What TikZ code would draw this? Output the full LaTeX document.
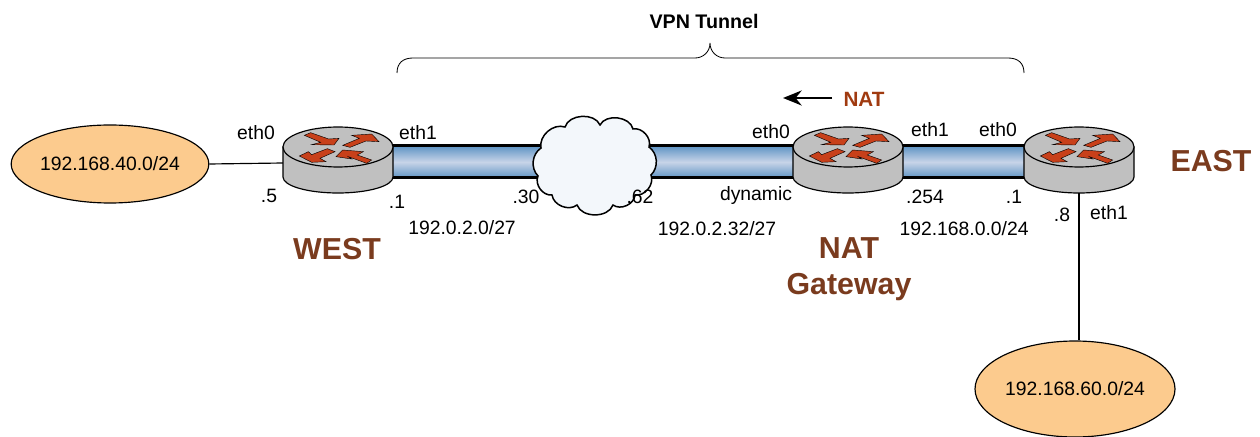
\documentclass[tikz,border=0pt]{standalone}
\usepackage{fontspec}
\setmainfont{Liberation Sans}
\usetikzlibrary{calc,shapes.geometric,arrows.meta}
\definecolor{routerred}{HTML}{C8401A}
\definecolor{routergray}{HTML}{C0C0C0}
\definecolor{peach}{HTML}{FCCB8E}
\definecolor{brownlabel}{HTML}{7A3B1E}
\definecolor{natred}{HTML}{A03A10}
\definecolor{cloudfill}{HTML}{F3F7FB}
\definecolor{tubeblue}{HTML}{5F94C4}
\definecolor{tubelight}{HTML}{C8D4E8}
\tikzset{
  lbl/.style={font=\fontsize{11.6}{14}\selectfont,inner sep=0pt,text=black},
  titlebold/.style={font=\fontsize{11.8}{14}\selectfont\bfseries,inner sep=0pt},
  bigname/.style={font=\fontsize{18.2}{21.5}\selectfont\bfseries,inner sep=0pt,text=brownlabel,align=center},
  natlbl/.style={font=\fontsize{12.4}{14}\selectfont\bfseries,inner sep=0pt,text=natred},
  subnet/.style={ellipse,draw=black,line width=0.7pt,fill=peach,inner sep=0pt,font=\fontsize{11.6}{14}\selectfont},
  hub/.style={inner sep=0pt,minimum size=0pt},
  wire/.style={draw=black,line width=0.7pt},
  tubefill/.style={top color=tubeblue,bottom color=tubeblue,middle color=tubelight,shading angle=0},
  tubeedge/.style={draw=black,line width=1.8pt},
  arrowface/.style={fill=routerred,draw=black,line width=0.25pt,line join=miter},
  router/.pic={
    \path[fill=routergray,draw=black,line width=0.7pt]
      (-55,0) -- (-55,30) .. controls (-55,39) and (-30,46) .. (0,46)
      .. controls (30,46) and (55,39) .. (55,30) -- (55,0) -- cycle;
    \path[fill=routergray,draw=black,line width=0.7pt] (0,0) ellipse [x radius=33pt,y radius=12pt];
    \begin{scope}[x=0.2pt,y=-0.2pt]
      \path[arrowface] (-101,-35) -- (-82,-43) -- (-28,-24) -- (3,-26) -- (-12,-6) -- (-79,-7) -- (-52,-14) -- cycle;
      \path[arrowface] (14,-5) -- (64,-26) -- (41,-35) -- (101,-39) -- (123,-16) -- (84,-18) -- (36,1) -- cycle;
      \path[arrowface] (-116,27) -- (-79,46) -- (-36,44) -- (-54,34) -- (-9,14) -- (-32,5) -- (-79,23) -- (-89,14) -- cycle;
      \path[arrowface] (-6,29) -- (14,9) -- (76,14) -- (58,24) -- (101,39) -- (86,49) -- (31,29) -- (41,36) -- cycle;
    \end{scope}
  }
}
\newcommand{\tubelink}[2]{%
  \shade[tubefill] ($(#1)+(0,-16)$) rectangle ($(#2)+(0,16)$);
  \draw[tubeedge] ($(#1)+(0,-16)$) -- ($(#2)+(0,-16)$);
  \draw[tubeedge] ($(#1)+(0,16)$) -- ($(#2)+(0,16)$);
}
\begin{document}
\begin{tikzpicture}[x=0.6pt,y=-0.6pt]
\useasboundingbox (0,0) rectangle (1260,437);
\clip (0,0) rectangle (1260,437);

% anchors of the tube links
\coordinate (westE) at (393,162);
\coordinate (cloudW) at (560,162);
\coordinate (cloudE) at (630,162);
\coordinate (natW) at (793,162);
\coordinate (natE) at (903,162);
\coordinate (eastW) at (1024,162);

\tubelink{westE}{cloudW}
\tubelink{cloudE}{natW}
\tubelink{natE}{eastW}

% subnets
\node[subnet,minimum width=115.2pt,minimum height=46.8pt] (lanw) at (110,164) {192.168.40.0/24};
\node[subnet,minimum width=120pt,minimum height=57.6pt] (lane) at (1075,389) {192.168.60.0/24};

% routers
\node[hub] (west) at (338,147) {};
\node[hub] (nat) at (848,147) {};
\node[hub] (east) at (1079,147) {};
\coordinate (westL) at (283,163);
\coordinate (eastB) at (1079,190);

\draw[wire] (lanw.east) -- (westL);
\draw[wire] (eastB) -- (eastB |- lane.north);

\pic at (west) {router};
\pic at (nat) {router};
\pic at (east) {router};

% cloud
\path[fill=cloudfill,draw=black,line width=0.9pt]
  (565,127) to[bend left=70] (600,125) to[bend left=70] (633,129)
  to[bend left=60] (649,147) to[bend left=50] (651,175)
  to[bend left=60] (635,195) to[bend left=60] (613,205)
  to[bend left=70] (577,205) to[bend left=60] (552,195)
  to[bend left=60] (538,176) to[bend left=50] (541,148)
  to[bend left=60] cycle;

% brace
\coordinate (braceL) at (397,73);
\coordinate (braceR) at (1024,73);
\coordinate (braceT) at (710,43);
\draw[black,line width=0.5pt]
  (braceL) .. controls (397,63) and (403,58) .. (413,58) -- (695,58)
  .. controls (703,58) and (710,52) .. (braceT)
  .. controls (710,52) and (717,58) .. (725,58) -- (1008,58)
  .. controls (1018,58) and (braceR |- 63,63) .. (braceR);
\node[titlebold] (vpn) at (704,21) {VPN Tunnel};

% NAT arrow
\node[natlbl] (natl) at (864,99) {NAT};
\coordinate (natS) at (832,98);
\coordinate (natT) at (783,98);
\draw[-{Stealth[length=14pt*0.8,width=9pt]},line width=1.3pt] (natS) -- (natT);

% labels
\node[lbl] (a1) at (256,133) {eth0};
\node[lbl] (a2) at (418,133) {eth1};
\node[lbl] (a3) at (269,196) {.5};
\node[lbl] (a4) at (397,202) {.1};
\node[lbl] (a5) at (526,197) {.30};
\node[lbl] (a6) at (462,228) {192.0.2.0/27};
\node[lbl] (a7) at (640,197) {.62};
\node[lbl] (a8) at (756,196) {dynamic};
\node[lbl] (a9) at (771,132) {eth0};
\node[lbl] (a10) at (930,130) {eth1};
\node[lbl] (a11) at (998,130) {eth0};
\node[lbl] (a12) at (925,197) {.254};
\node[lbl] (a13) at (1014,197) {.1};
\node[lbl] (a14) at (717,229) {192.0.2.32/27};
\node[lbl] (a15) at (964,229) {192.168.0.0/24};
\node[lbl] (a16) at (1062,215) {.8};
\node[lbl] (a17) at (1109,213) {eth1};
\node[bigname] (n1) at (337,249) {WEST};
\node[bigname] (n2) at (849,269) {NAT\\Gateway};
\node[bigname] (n3) at (1211,161) {EAST};
\end{tikzpicture}
\end{document}
